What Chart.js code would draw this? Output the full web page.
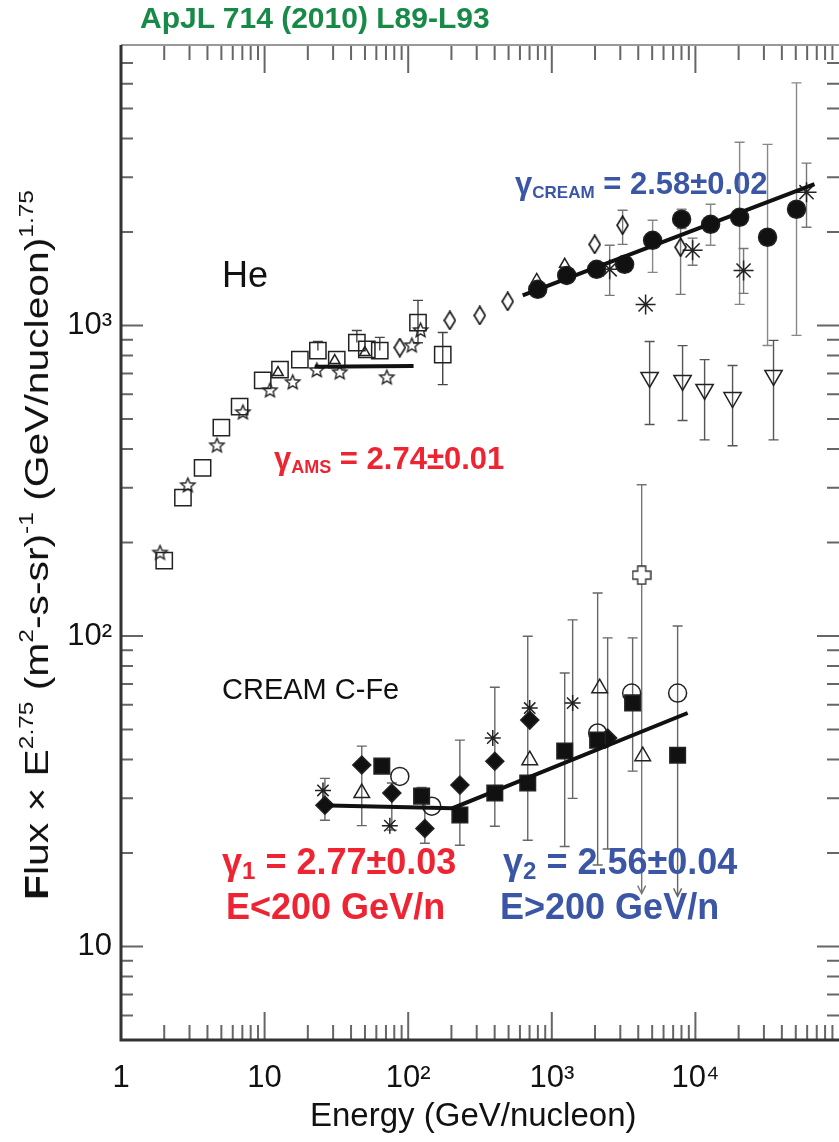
<!DOCTYPE html>
<html>
<head>
<meta charset="utf-8">
<script src="https://cdn.jsdelivr.net/npm/chart.js@4.4.0/dist/chart.umd.min.js"></script>
<style>
html, body { margin: 0; padding: 0; background: #fff; overflow: hidden; }
#wrap { position: relative; width: 839px; height: 1142px; font-family: "Liberation Sans", Arial, sans-serif; }
canvas { position: absolute; left: 0; top: 0; }
.t { position: absolute; white-space: nowrap; line-height: 1; }
.t sup { font-size: 0.6em; vertical-align: 0.75em; line-height: 0; }
.t sub { vertical-align: -0.22em; line-height: 0; }
.red { color: #ee2432; font-weight: bold; }
.blue { color: #3a56a5; font-weight: bold; }
</style>
</head>
<body>
<div id="wrap">
  <canvas id="chart" width="839" height="1142"></canvas>

  <div class="t" style="left:140px;top:3px;font-size:30px;font-weight:bold;color:#178a48">ApJL 714 (2010) L89-L93</div>
  <div class="t" style="left:36px;top:545px;font-size:34px;color:#111;transform:translate(-50%,-50%) rotate(-90deg) scaleX(1.2)"><b>F</b>lux × E<sup>2.75</sup> (m<sup>2</sup>-s-sr)<sup>-1</sup> (GeV/nucleon)<sup>1.75</sup></div>
  <div class="t" style="left:310px;top:1098px;font-size:33px;color:#111">Energy (GeV/nucleon)</div>

  <div class="t" style="left:222px;top:257px;font-size:36px;color:#111">He</div>
  <div class="t" style="left:222px;top:675px;font-size:29px;color:#111">CREAM C-Fe</div>

  <div class="t red" style="left:274px;top:443px;font-size:31px">γ<sub style="font-size:18px">AMS</sub> = 2.74±0.01</div>
  <div class="t blue" style="left:515px;top:168px;font-size:31px">γ<sub style="font-size:17px">CREAM</sub> = 2.58±0.02</div>

  <div class="t red" style="left:222px;top:844px;font-size:36px">γ<sub style="font-size:24px">1</sub> = 2.77±0.03</div>
  <div class="t red" style="left:226px;top:889px;font-size:36px">E&lt;200 GeV/n</div>
  <div class="t blue" style="left:503px;top:844px;font-size:36px">γ<sub style="font-size:24px">2</sub> = 2.56±0.04</div>
  <div class="t blue" style="left:500px;top:889px;font-size:36px">E&gt;200 GeV/n</div>
</div>

<script>
// ---- He data (E in GeV/nucleon, F = flux x E^2.75) ----
const heSqE  = [2.0, 2.7, 3.7, 5.0, 6.7, 9.7, 12.8, 17.6, 23.5, 31.8, 43.9, 51.5, 63.4, 117, 174];
const heSqF  = [175, 279, 348, 469, 548, 665, 721, 776, 830, 776, 881, 837, 830, 1022, 806];
const heSqHi = [null, null, null, null, null, null, null, null, 888, null, 963, null, 915, 1204, 949];
const heSqLo = [null, null, null, null, null, null, null, null, null, null, null, null, null, 880, 645];

const heStarE = [1.87, 2.92, 4.66, 7.06, 10.9, 15.7, 23.1, 33.4, 71, 106, 122];
const heStarF = [185, 305, 410, 524, 617, 655, 716, 705, 679, 861, 963];

const heTriE = [12.4, 30.8, 49.9, 785, 1230];
const heTriF = [705, 771, 818, 1407, 1573];

const heDiaE  = [87.5, 195, 315, 493, 1990, 3113, 7886];
const heDiaF  = [849, 1038, 1077, 1195, 1824, 2103, 1786];
const heDiaHi = [null, null, null, null, null, 2350, 2182];
const heDiaLo = [null, null, null, null, null, 1824, 1259];

const heCircE  = [798, 1270, 2052, 3214, 5035, 8017, 12760, 20320, 31800, 50600];
const heCircF  = [1307, 1449, 1516, 1573, 1880, 2199, 2117, 2229, 1923, 2367];
const heCircHi = [null, null, null, null, 2182, 2366, 2455, 3890, 3830, 6040];
const heCircLo = [null, null, null, null, 1482, 2050, 1812, 1169, 862, 929];

const heDownE  = [4800, 8140, 11590, 18150, 35000];
const heDownF  = [680, 665, 622, 586, 690];
const heDownHi = [888, 861, 776, 743, 895];
const heDownLo = [480, 494, 428, 410, 428];

const heAstE  = [2529, 4500, 9560, 21650, 59400];
const heAstF  = [1516, 1169, 1745, 1503, 2686];
const heAstHi = [1812, null, 1910, 1770, 3333];
const heAstLo = [1250, null, 1563, 1268, 2070];

// ---- CREAM C-Fe data ----
const cfeSqE  = [65.5, 124, 229, 401, 680, 1230, 2086, 3655, 7520];
const cfeSqF  = [38.1, 30.5, 26.5, 31.2, 33.6, 42.6, 46.2, 60.9, 41.3];
const cfeSqHi = [null, 32.5, 46.2, 68.4, 99.8, 76, 137.6, 98.6, 107.7];
const cfeSqLo = [null, null, 21.2, 24.4, 22, 21.0, 18.3, 36.7, 14.5];
const cfeSqArrow = [false, false, false, false, false, false, false, false, true];

const cfeDiaE  = [26.3, 47.5, 76.9, 130.6, 229, 401, 702, 2449];
const cfeDiaF  = [28.5, 38.4, 31.2, 24.0, 33.1, 39.5, 53.6, 46.9];
const cfeDiaHi = [34.8, 44.2, 33.6, 29.6, null, null, null, 98.6];
const cfeDiaLo = [25.5, 24.5, 23.7, 21.5, null, null, null, 20.6];

const cfeTriE = [47.5, 702, 2153, 4296];
const cfeTriF = [31.2, 39.8, 67.9, 41.0];

const cfeCircE = [87.4, 146, 2086, 3597, 7520];
const cfeCircF = [35.3, 28.3, 48.7, 65.5, 65.5];

const cfeAstE  = [25.5, 74.5, 388, 702, 1397];
const cfeAstF  = [31.8, 24.5, 46.9, 58.6, 60.8];
const cfeAstHi = [null, null, null, null, 112.7];
const cfeAstLo = [null, null, null, null, 30.0];

const cfeCrossE = [4226];
const cfeCrossF = [157];
const cfeCrossHi = [307];
const cfeCrossLo = [14.8];
const cfeCrossArrow = [true];

// ---- power-law fits ----
const amsFitE = [22.4, 109];
const amsFitF = [736, 740];
const creamHeFitE = [627, 67500];
const creamHeFitF = [1250, 2851];
const cfeFitE = [23.5, 204, 8830];
const cfeFitF = [28.5, 27.9, 56.5];

// ---- axis labels ----
const xTickLabels = ['1', '10', '10²', '10³', '10⁴', ''];
const yTickLabels = { 1: '10', 2: '10²', 3: '10³' };

const pts = (xs, ys) => xs.map((x, i) => ({ x: x, y: ys[i] }));

// custom marker shapes
function starImg(r) {
    const s = Math.ceil(2 * r + 4), c = document.createElement('canvas');
    c.width = c.height = s;
    const g = c.getContext('2d');
    g.beginPath();
    for (let i = 0; i < 10; i++) {
        const a = -Math.PI / 2 + i * Math.PI / 5, rr = i % 2 ? r * 0.45 : r;
        g.lineTo(s / 2 + rr * Math.cos(a), s / 2 + rr * Math.sin(a));
    }
    g.closePath();
    g.strokeStyle = '#222'; g.lineWidth = 1.4; g.stroke();
    return c;
}
function lozengeImg(w, h) {
    const c = document.createElement('canvas');
    c.width = w; c.height = h;
    const g = c.getContext('2d');
    g.beginPath();
    g.moveTo(w / 2, 1); g.lineTo(w - 1, h / 2); g.lineTo(w / 2, h - 1); g.lineTo(1, h / 2);
    g.closePath();
    g.strokeStyle = '#111'; g.lineWidth = 1.6; g.stroke();
    return c;
}
function plusImg(s, a) {
    const c = document.createElement('canvas');
    c.width = c.height = s;
    const g = c.getContext('2d'), m = s / 2, h = a / 2, e = s / 2 - 1;
    g.beginPath();
    g.moveTo(m - h, m - e); g.lineTo(m + h, m - e); g.lineTo(m + h, m - h); g.lineTo(m + e, m - h);
    g.lineTo(m + e, m + h); g.lineTo(m + h, m + h); g.lineTo(m + h, m + e); g.lineTo(m - h, m + e);
    g.lineTo(m - h, m + h); g.lineTo(m - e, m + h); g.lineTo(m - e, m - h); g.lineTo(m - h, m - h);
    g.closePath();
    g.fillStyle = '#fff'; g.fill();
    g.strokeStyle = '#333'; g.lineWidth = 1.4; g.stroke();
    return c;
}

function marker(data, style, r, fill, extra) {
    return Object.assign({
        data: data, pointStyle: style, pointRadius: r, pointHoverRadius: r,
        pointBackgroundColor: fill ? '#111' : 'rgba(0,0,0,0)',
        pointBorderColor: '#222', pointBorderWidth: 1.5, showLine: false, order: 1
    }, extra || {});
}
function fitLine(xs, ys) {
    return { data: pts(xs, ys), showLine: true, pointRadius: 0, borderColor: '#111', borderWidth: 4, order: 0 };
}

// error bars drawn through the scales
const errorBars = {
    id: 'errorBars',
    beforeDatasetsDraw(chart) {
        const ctx = chart.ctx, xs = chart.scales.x, ys = chart.scales.y;
        ctx.save();
        chart.data.datasets.forEach(ds => {
            if (!ds.errHi) return;
            ctx.strokeStyle = ds.errColor || '#777';
            ctx.lineWidth = 1.4;
            ds.data.forEach((p, i) => {
                const hi = ds.errHi[i], lo = ds.errLo[i];
                if (hi == null && lo == null) return;
                const px = xs.getPixelForValue(p.x);
                const yTop = ys.getPixelForValue(hi == null ? p.y : hi);
                const yBot = ys.getPixelForValue(lo == null ? p.y : lo);
                ctx.beginPath();
                ctx.moveTo(px, yTop); ctx.lineTo(px, yBot);
                if (hi != null) { ctx.moveTo(px - 5, yTop); ctx.lineTo(px + 5, yTop); }
                if (lo != null) {
                    if (ds.errArrow && ds.errArrow[i]) {
                        ctx.moveTo(px - 4, yBot - 8); ctx.lineTo(px, yBot); ctx.lineTo(px + 4, yBot - 8);
                    } else {
                        ctx.moveTo(px - 5, yBot); ctx.lineTo(px + 5, yBot);
                    }
                }
                ctx.stroke();
            });
        });
        ctx.restore();
    }
};

// frame with inward ticks like the IDL plot
const frame = {
    id: 'frame',
    afterDraw(chart) {
        const ctx = chart.ctx, a = chart.chartArea, xs = chart.scales.x, ys = chart.scales.y;
        ctx.save();
        ctx.lineCap = 'butt';
        ctx.strokeStyle = '#666'; ctx.lineWidth = 2;
        for (let d = 0; d <= 4; d++) {
            for (let k = 1; k <= 9; k++) {
                const px = xs.getPixelForValue(k * Math.pow(10, d));
                const len = k === 1 ? 28 : 15;
                ctx.beginPath();
                ctx.moveTo(px, a.bottom); ctx.lineTo(px, a.bottom - len);
                ctx.moveTo(px, a.top); ctx.lineTo(px, a.top + len);
                ctx.stroke();
            }
        }
        for (let d = 0; d <= 3; d++) {
            for (let k = 1; k <= 9; k++) {
                const v = k * Math.pow(10, d);
                if (v < 5 || v > 8000) continue;
                const py = ys.getPixelForValue(v);
                const len = k === 1 ? 22 : 12;
                ctx.beginPath();
                ctx.moveTo(a.left, py); ctx.lineTo(a.left + len, py);
                ctx.moveTo(a.right, py); ctx.lineTo(a.right - len, py);
                ctx.stroke();
            }
        }
        ctx.strokeStyle = '#999'; ctx.lineWidth = 2;
        ctx.beginPath(); ctx.moveTo(a.left, a.top); ctx.lineTo(a.right, a.top); ctx.stroke();
        ctx.strokeStyle = '#333'; ctx.lineWidth = 3;
        ctx.beginPath();
        ctx.moveTo(a.left, a.top); ctx.lineTo(a.left, a.bottom); ctx.lineTo(a.right, a.bottom);
        ctx.stroke();
        ctx.restore();
    }
};

new Chart(document.getElementById('chart'), {
    type: 'scatter',
    data: {
        datasets: [
            fitLine(amsFitE, amsFitF),
            fitLine(creamHeFitE, creamHeFitF),
            fitLine(cfeFitE, cfeFitF),

            marker(pts(heCircE, heCircF), 'circle', 9, true, { errHi: heCircHi, errLo: heCircLo, errColor: '#888' }),
            marker(pts(heStarE, heStarF), starImg(7.5), 8, false),
            marker(pts(heTriE, heTriF), 'triangle', 6, false),
            marker(pts(heDiaE, heDiaF), lozengeImg(13, 20), 8, false, { errHi: heDiaHi, errLo: heDiaLo, errColor: '#777' }),
            marker(pts(heAstE, heAstF), 'star', 10, false, { errHi: heAstHi, errLo: heAstLo, errColor: '#777' }),
            marker(pts(heDownE, heDownF), 'triangle', 10, false, { pointRotation: 180, errHi: heDownHi, errLo: heDownLo, errColor: '#555' }),
            marker(pts(heSqE, heSqF), 'rect', 11.5, false, { errHi: heSqHi, errLo: heSqLo, errColor: '#444' }),

            marker(pts(cfeSqE, cfeSqF), 'rect', 11, true, { errHi: cfeSqHi, errLo: cfeSqLo, errArrow: cfeSqArrow, errColor: '#666' }),
            marker(pts(cfeDiaE, cfeDiaF), 'rectRot', 9, true, { errHi: cfeDiaHi, errLo: cfeDiaLo, errColor: '#666' }),
            marker(pts(cfeTriE, cfeTriF), 'triangle', 9, false),
            marker(pts(cfeCircE, cfeCircF), 'circle', 9, false),
            marker(pts(cfeAstE, cfeAstF), 'star', 8, false, { errHi: cfeAstHi, errLo: cfeAstLo, errColor: '#666' }),
            marker(pts(cfeCrossE, cfeCrossF), plusImg(20, 8), 9, false, { errHi: cfeCrossHi, errLo: cfeCrossLo, errArrow: cfeCrossArrow, errColor: '#777' })
        ]
    },
    options: {
        responsive: false,
        animation: false,
        devicePixelRatio: 1,
        layout: { autoPadding: false, padding: { top: 45, right: 0, left: 0, bottom: 0 } },
        plugins: { legend: { display: false }, tooltip: { enabled: false } },
        scales: {
            x: {
                type: 'logarithmic', min: 1, max: 100000,
                grid: { display: false, drawTicks: false }, border: { display: false },
                afterFit: s => { s.height = 102; s.paddingLeft = 0; s.paddingRight = 0; },
                ticks: {
                    autoSkip: false, maxRotation: 0, padding: 20, color: '#111',
                    font: { family: '"Liberation Sans", Arial, sans-serif', size: 31 },
                    callback: v => {
                        const lg = Math.log10(v);
                        return Math.abs(lg - Math.round(lg)) < 1e-6 ? xTickLabels[Math.round(lg)] : '';
                    }
                }
            },
            y: {
                type: 'logarithmic', min: 5, max: 8000,
                grid: { display: false, drawTicks: false }, border: { display: false },
                afterFit: s => { s.width = 121; s.paddingTop = 0; s.paddingBottom = 0; },
                ticks: {
                    autoSkip: false, padding: 9, color: '#111',
                    font: { family: '"Liberation Sans", Arial, sans-serif', size: 31 },
                    callback: v => {
                        const lg = Math.log10(v);
                        return Math.abs(lg - Math.round(lg)) < 1e-6 ? (yTickLabels[Math.round(lg)] || '') : '';
                    }
                }
            }
        }
    },
    plugins: [errorBars, frame]
});
</script>
</body>
</html>
